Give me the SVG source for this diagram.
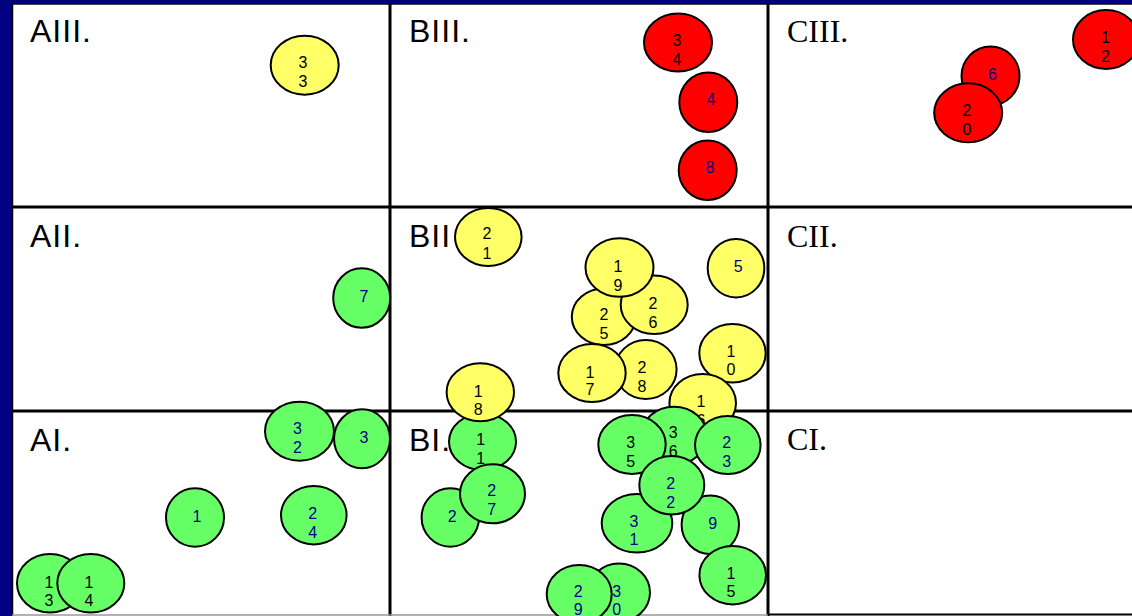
<svg xmlns="http://www.w3.org/2000/svg" width="1132" height="616" viewBox="0 0 1132 616">
<style>
.lbl{font-family:"Liberation Sans",Arial,sans-serif;font-size:32px;fill:#000;letter-spacing:1px}
.lbls{font-family:"Liberation Serif","Times New Roman",serif;font-size:32px;fill:#000}
ellipse{stroke:#000;stroke-width:2}
.y{fill:#FFFF66}.r{fill:#FF0000}.g{fill:#66FF66}
text.n,text.k{font-family:"Liberation Sans",Arial,sans-serif;font-size:16px;text-anchor:middle}
.n{fill:#000080}.k{fill:#000}
.grid line{stroke:#000;stroke-width:3}
</style>
<rect x="0" y="0" width="1132" height="616" fill="#000080"/>
<rect x="12" y="4" width="1122" height="614" fill="#fff"/>
<g id="grid" class="grid">
<line x1="12" y1="4" x2="1132" y2="4" style="stroke-width:1.5"/>
<line x1="12.5" y1="4" x2="12.5" y2="616" style="stroke-width:1.5"/>
<line x1="390" y1="4" x2="390" y2="616"/>
<line x1="768" y1="4" x2="768" y2="616"/>
<line x1="12" y1="207" x2="1132" y2="207"/>
<line x1="12" y1="411" x2="1132" y2="411"/>
<line x1="12" y1="615" x2="390" y2="615" style="stroke:#999;stroke-width:1.5"/>
<line x1="390" y1="615" x2="768" y2="615" style="stroke:#999;stroke-width:1.5"/>
<line x1="768" y1="614.5" x2="1132" y2="614.5" style="stroke-width:2"/>
</g>
<g id="labels">
<text class="lbl" x="30" y="42">AIII.</text>
<text class="lbl" x="409" y="42">BIII.</text>
<text class="lbls" x="787" y="42">CIII.</text>
<text class="lbl" x="30" y="247">AII.</text>
<text class="lbl" x="409" y="247">BII</text>
<text class="lbls" x="787" y="247">CII.</text>
<text class="lbl" x="30" y="451">AI.</text>
<text class="lbl" x="409" y="451">BI.</text>
<text class="lbls" x="787" y="450">CI.</text>
</g>
<g id="connectors"></g>
<g id="n33"><ellipse class="y" cx="304.7" cy="65.2" rx="34" ry="29.5"/><text class="k" x="303" y="68">3<tspan x="303" dy="19">3</tspan></text></g>
<g id="n34"><ellipse class="r" cx="678" cy="42.5" rx="34" ry="29"/><text class="k" x="677" y="46.3">3<tspan x="677" dy="19">4</tspan></text></g>
<g id="n4"><ellipse class="r" cx="708.3" cy="102.3" rx="29" ry="29.7"/><text class="n" x="711" y="105.3">4</text></g>
<g id="n8"><ellipse class="r" cx="707.7" cy="170.3" rx="29" ry="29.7"/><text class="n" x="710" y="173.3">8</text></g>
<g id="n12"><ellipse class="r" cx="1106" cy="39.5" rx="33" ry="29.5"/><text class="k" x="1105.5" y="42.7">1<tspan x="1105.5" dy="19">2</tspan></text></g>
<g id="n6"><ellipse class="r" cx="990.5" cy="76" rx="29" ry="29.5"/><text class="n" x="992.5" y="80">6</text></g>
<g id="n20"><ellipse class="r" cx="968.2" cy="112.8" rx="34" ry="29.5"/><text class="k" x="967" y="116">2<tspan x="967" dy="19">0</tspan></text></g>
<g id="n7"><ellipse class="g" cx="361.7" cy="298" rx="28.5" ry="29.7"/><text class="n" x="364" y="301.7">7</text></g>
<g id="n21"><ellipse class="y" cx="488.3" cy="237" rx="33.3" ry="29"/><text class="k" x="487" y="239.3">2<tspan x="487" dy="19.5">1</tspan></text></g>
<g id="n25"><ellipse class="y" cx="603.8" cy="316.7" rx="32" ry="28.3"/><text class="k" x="604" y="320.3">2<tspan x="604" dy="18.5">5</tspan></text></g>
<g id="n26"><ellipse class="y" cx="654.2" cy="304.8" rx="33.5" ry="29.2"/><text class="k" x="653" y="309.3">2<tspan x="653" dy="18.5">6</tspan></text></g>
<g id="n19"><ellipse class="y" cx="619.5" cy="267.5" rx="34" ry="29.2"/><text class="k" x="618" y="272">1<tspan x="618" dy="19">9</tspan></text></g>
<g id="n5"><ellipse class="y" cx="736" cy="268.2" rx="28.3" ry="29.2"/><text class="n" x="738.3" y="272">5</text></g>
<g id="n28"><ellipse class="y" cx="645.8" cy="369.5" rx="30.8" ry="29.5"/><text class="k" x="642" y="372.7">2<tspan x="642" dy="19">8</tspan></text></g>
<g id="n17"><ellipse class="y" cx="592" cy="373" rx="33.7" ry="29"/><text class="k" x="590" y="377.7">1<tspan x="590" dy="17.5">7</tspan></text></g>
<g id="n10"><ellipse class="y" cx="732.5" cy="353.3" rx="33.2" ry="29.3"/><text class="k" x="731" y="356.7">1<tspan x="731" dy="18.6">0</tspan></text></g>
<g id="n16"><ellipse class="y" cx="702.7" cy="403" rx="33.3" ry="29"/><text class="k" x="701" y="406.7">1<tspan x="701" dy="19">6</tspan></text></g>
<g id="n11"><ellipse class="g" cx="482.5" cy="441.7" rx="33.5" ry="28.3"/><text class="k" x="480.7" y="445.3">1<tspan x="480.7" dy="19">1</tspan></text></g>
<g id="n18"><ellipse class="y" cx="480.3" cy="392.3" rx="33.7" ry="29"/><text class="k" x="478.3" y="396.7">1<tspan x="478.3" dy="18.5">8</tspan></text></g>
<g id="n2"><ellipse class="g" cx="450.3" cy="517.5" rx="28.7" ry="29.2"/><text class="n" x="452.3" y="521.7">2</text></g>
<g id="n27"><ellipse class="g" cx="492.5" cy="493.8" rx="32.5" ry="29.5"/><text class="n" x="491.7" y="496">2<tspan x="491.7" dy="19.3">7</tspan></text></g>
<g id="n32"><ellipse class="g" cx="299.5" cy="431.2" rx="34.5" ry="29.5"/><text class="n" x="297.5" y="434.3">3<tspan x="297.5" dy="19">2</tspan></text></g>
<g id="n3"><ellipse class="g" cx="362" cy="438.8" rx="28" ry="29.5"/><text class="n" x="364" y="442.7">3</text></g>
<g id="n1"><ellipse class="g" cx="195" cy="517.5" rx="29" ry="29.2"/><text class="n" x="197" y="521.7">1</text></g>
<g id="n24"><ellipse class="g" cx="313.8" cy="515.2" rx="32.8" ry="29.2"/><text class="n" x="312.7" y="519.3">2<tspan x="312.7" dy="18.4">4</tspan></text></g>
<g id="n13"><ellipse class="g" cx="50" cy="583.3" rx="33" ry="29.3"/><text class="k" x="49" y="587.7">1<tspan x="49" dy="18.3">3</tspan></text></g>
<g id="n14"><ellipse class="g" cx="90.8" cy="583.3" rx="33.5" ry="29.3"/><text class="k" x="89" y="587.7">1<tspan x="89" dy="18.3">4</tspan></text></g>
<g id="n36"><ellipse class="g" cx="674" cy="435.7" rx="33" ry="29"/><text class="k" x="673.3" y="438.3">3<tspan x="673.3" dy="18.4">6</tspan></text></g>
<g id="n35"><ellipse class="g" cx="632" cy="444.5" rx="33.7" ry="29.5"/><text class="k" x="630.7" y="448.3">3<tspan x="630.7" dy="18.7">5</tspan></text></g>
<g id="n23"><ellipse class="g" cx="727.8" cy="445" rx="32.8" ry="29"/><text class="n" x="726.7" y="448.3">2<tspan x="726.7" dy="18.7">3</tspan></text></g>
<g id="n31"><ellipse class="g" cx="637" cy="523.3" rx="35.3" ry="29.3"/><text class="n" x="634" y="526.7">3<tspan x="634" dy="18.6">1</tspan></text></g>
<g id="n9"><ellipse class="g" cx="710.3" cy="524.8" rx="28.7" ry="29.2"/><text class="n" x="712.7" y="528.7">9</text></g>
<g id="n22"><ellipse class="g" cx="671.8" cy="485.2" rx="32.5" ry="29.2"/><text class="n" x="670.7" y="489.3">2<tspan x="670.7" dy="18.4">2</tspan></text></g>
<g id="n15"><ellipse class="g" cx="732.7" cy="575.2" rx="33.3" ry="29.2"/><text class="k" x="731" y="578.7">1<tspan x="731" dy="18.3">5</tspan></text></g>
<g id="n30"><ellipse class="g" cx="619" cy="592.5" rx="31" ry="29"/><text class="n" x="616.7" y="596.7">3<tspan x="616.7" dy="18">0</tspan></text></g>
<g id="n29"><ellipse class="g" cx="579.2" cy="594" rx="32.5" ry="29"/><text class="n" x="578.3" y="596.7">2<tspan x="578.3" dy="18">9</tspan></text></g>
</svg>
